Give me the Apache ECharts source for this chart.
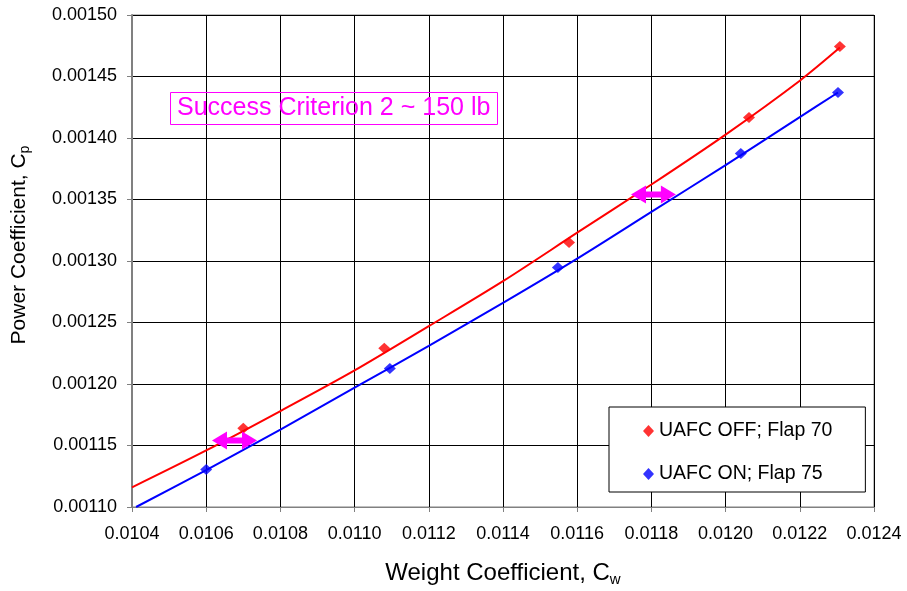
<!DOCTYPE html>
<html>
<head>
<meta charset="utf-8">
<script src="https://cdn.jsdelivr.net/npm/echarts@6/dist/echarts.min.js"></script>
<style>
	html, body { margin: 0; padding: 0; background: #fff; }
	#chart { width: 907px; height: 591px; }
</style>
</head>
<body>
<div id="chart"></div>
<script>
// measured points
const offPoints = [[0.01070, 0.001164], [0.01108, 0.001229], [0.011578, 0.001315], [0.012063, 0.0014167], [0.012308, 0.0014744]]
const onPoints = [[0.01060, 0.0011305], [0.011095, 0.0012126], [0.011548, 0.0012947], [0.012041, 0.0013874], [0.012303, 0.001437]]

// trend lines
const offTrend = [[0.0104, 0.001116], [0.0106, 0.001146], [0.0108, 0.001178], [0.0110, 0.001211], [0.0112, 0.001247], [0.0114, 0.0012836], [0.0116, 0.001323], [0.0118, 0.0013622], [0.0120, 0.0014028], [0.0122, 0.0014466], [0.012308, 0.0014735]]
const onTrend = [[0.010411, 0.00110], [0.0106, 0.00113], [0.0108, 0.001163], [0.0110, 0.001197], [0.0112, 0.001231], [0.0114, 0.001266], [0.0116, 0.001302], [0.0118, 0.00134], [0.0120, 0.001378], [0.0122, 0.001417], [0.012303, 0.001437]]

// magenta double arrows: [left tip x, right tip x, y]
const arrows = [[0.0106156, 0.010737, 0.001154], [0.011745, 0.011866, 0.001354]]

const xTicks = { min: 0.0104, max: 0.0124, interval: 0.0002 }
const yTicks = { min: 0.00110, max: 0.00150, interval: 0.00005 }

const font = "Arial, 'Liberation Sans', sans-serif"
const magenta = "#FF00FF"

const chart = echarts.init(document.getElementById("chart"))

// double headed arrow drawn in pixel space from data tips
function renderArrow(params, api) {
	const a = api.coord([api.value(0), api.value(2)])
	const b = api.coord([api.value(1), api.value(2)])
	const y = a[1]
	const hl = 15, hh = 9, sh = 3
	return {
		type: "polygon",
		shape: {
			points: [
				[a[0], y], [a[0] + hl, y - hh], [a[0] + hl, y - sh],
				[b[0] - hl, y - sh], [b[0] - hl, y - hh], [b[0], y],
				[b[0] - hl, y + hh], [b[0] - hl, y + sh], [a[0] + hl, y + sh],
				[a[0] + hl, y + hh]
			]
		},
		style: { fill: magenta }
	}
}

const option = {
	backgroundColor: "#fff",
	animation: false,
	textStyle: { fontFamily: font },
	title: {
		text: "Success Criterion 2 ~ 150 lb",
		left: 170,
		top: 92,
		borderColor: magenta,
		borderWidth: 1,
		padding: [4, 7, 4, 7],
		textStyle: {
			color: magenta,
			fontSize: 25,
			fontWeight: "normal",
			fontFamily: font
		}
	},
	legend: {
		orient: "vertical",
		left: 609,
		top: 407,
		data: ["UAFC OFF; Flap 70", "UAFC ON; Flap 75"],
		icon: "diamond",
		itemWidth: 11,
		itemHeight: 12,
		itemGap: 23,
		padding: [14, 33, 8, 34],
		borderColor: "#000",
		borderWidth: 1,
		backgroundColor: "#fff",
		textStyle: { fontSize: 19.5, color: "#000", fontFamily: font }
	},
	grid: {
		left: 132,
		right: 33,
		top: 15,
		bottom: 84,
		outerBoundsMode: "none",
		containLabel: false,
		show: true,
		borderColor: "#808080",
		borderWidth: 1
	},
	xAxis: {
		type: "value",
		min: xTicks.min,
		max: xTicks.max,
		interval: xTicks.interval,
		name: "{a|Weight Coefficient, C}{s|w}",
		nameLocation: "middle",
		nameGap: 53,
		nameTextStyle: {
			rich: {
				a: { fontSize: 24, color: "#000", fontFamily: font },
				s: { fontSize: 15, color: "#000", fontFamily: font, padding: [12, 0, 0, 0] }
			}
		},
		axisLine: { lineStyle: { color: "#808080", width: 1 } },
		axisTick: { show: true, inside: false, length: 5, lineStyle: { color: "#808080" } },
		axisLabel: {
			color: "#000",
			fontSize: 18,
			margin: 18,
			formatter: v => v.toFixed(4)
		},
		splitLine: { show: true, lineStyle: { color: "#000", width: 1 } }
	},
	yAxis: {
		type: "value",
		min: yTicks.min,
		max: yTicks.max,
		interval: yTicks.interval,
		name: "{a|Power Coefficient, C}{s|p}",
		nameLocation: "middle",
		nameGap: 100,
		nameTextStyle: {
			padding: [0, 0, 0, 32],
			rich: {
				a: { fontSize: 21, color: "#000", fontFamily: font },
				s: { fontSize: 14, color: "#000", fontFamily: font, padding: [11, 0, 0, 0] }
			}
		},
		axisLine: { show: true, lineStyle: { color: "#808080", width: 2 } },
		axisTick: { show: true, inside: false, length: 5, lineStyle: { color: "#808080" } },
		axisLabel: {
			color: "#000",
			fontSize: 18,
			margin: 15,
			formatter: v => v.toFixed(5)
		},
		splitLine: { show: true, lineStyle: { color: "#000", width: 1 } }
	},
	series: [
		{
			name: "offTrend",
			type: "line",
			data: offTrend,
			smooth: 0.3,
			showSymbol: false,
			silent: true,
			lineStyle: { color: "#FF0000", width: 2 },
			z: 2
		},
		{
			name: "onTrend",
			type: "line",
			data: onTrend,
			smooth: 0.3,
			showSymbol: false,
			silent: true,
			lineStyle: { color: "#0000FF", width: 2 },
			z: 2
		},
		{
			name: "arrows",
			type: "custom",
			data: arrows,
			encode: { x: [0, 1], y: 2 },
			renderItem: renderArrow,
			silent: true,
			z: 4
		},
		{
			name: "UAFC OFF; Flap 70",
			type: "scatter",
			data: offPoints,
			symbol: "diamond",
			symbolSize: [12, 11],
			itemStyle: { color: "#FF0000" },
			z: 3
		},
		{
			name: "UAFC ON; Flap 75",
			type: "scatter",
			data: onPoints,
			symbol: "diamond",
			symbolSize: [12, 11],
			itemStyle: { color: "#0000FF" },
			z: 3
		}
	]
}

chart.setOption(option)
window.addEventListener("resize", () => chart.resize())
</script>
</body>
</html>
